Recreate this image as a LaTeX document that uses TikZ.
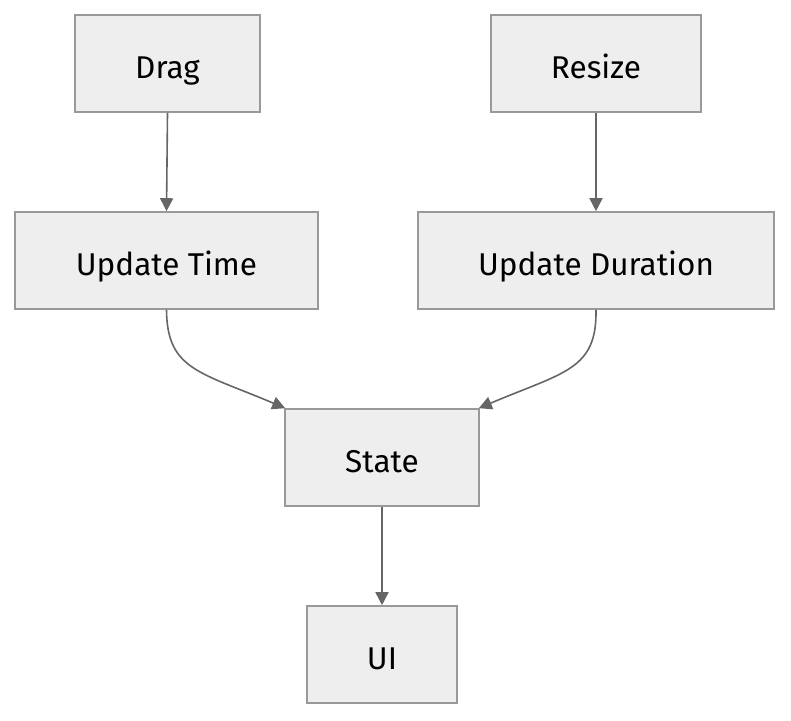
\documentclass[tikz,border=0pt]{standalone}
\usepackage{fontspec}
\setmainfont{Fira Sans}
\usetikzlibrary{arrows.meta}
\definecolor{boxfill}{HTML}{EEEEEE}
\definecolor{boxline}{HTML}{999999}
\definecolor{edge}{HTML}{666666}
\tikzset{
  flowbox/.style={draw=boxline, fill=boxfill, line width=1.6pt, inner sep=0pt,
    font=\fontsize{31.5}{36}\selectfont, text=black,
    text height=29pt, text depth=0pt},
  flow/.style={draw=edge, line width=1.6pt, -{Triangle[length=13pt,width=13pt]}},
}
\begin{document}
\begin{tikzpicture}[x=1pt,y=-1pt]
  \useasboundingbox (0,0) rectangle (791,720);
  % boxes
  \node[flowbox, minimum width=185pt, minimum height=97pt] (drag)   at (167.5,63.5)  {Drag};
  \node[flowbox, minimum width=210pt, minimum height=97pt] (resize) at (596,63.5)    {Resize};
  \node[flowbox, minimum width=303pt, minimum height=97pt] (utime)  at (166.5,260.5) {Update Time};
  \node[flowbox, minimum width=356pt, minimum height=97pt] (udur)   at (596,260.5)   {Update Duration};
  \node[flowbox, minimum width=194pt, minimum height=97pt] (state)  at (382,457.5)   {State};
  \node[flowbox, minimum width=150pt, minimum height=97pt] (ui)     at (382,654.5)   {UI};
  % connectors
  \coordinate (stl) at ([xshift=1pt]state.north west);
  \coordinate (str) at ([xshift=-1pt]state.north east);
  \draw[flow] (drag.south) -- (utime.north);
  \draw[flow] (resize.south) -- (udur.north);
  \draw[flow] (utime.south) .. controls (167,370) and (200,372) .. (stl);
  \draw[flow] (udur.south) .. controls (597,370) and (564,372) .. (str);
  \draw[flow] (state.south) -- (ui.north);
\end{tikzpicture}
\end{document}
